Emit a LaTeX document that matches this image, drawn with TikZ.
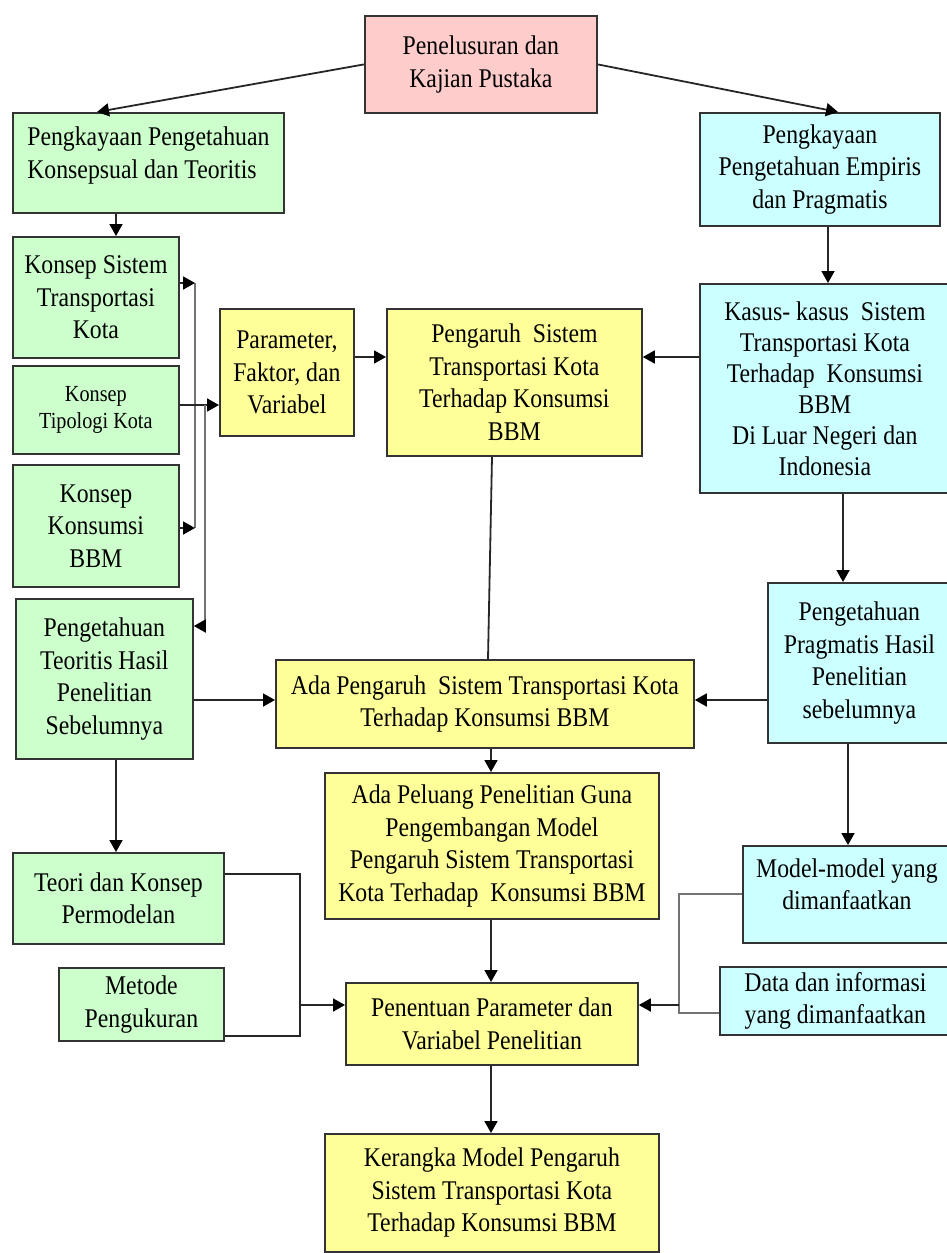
\documentclass[tikz,border=0pt]{standalone}
\usepackage{fontspec}
\setmainfont{Liberation Serif}[FakeStretch=0.88]
\usetikzlibrary{arrows.meta}
\definecolor{cgreen}{HTML}{CCFFCC}
\definecolor{ccyan}{HTML}{CCFFFF}
\definecolor{cyellow}{HTML}{FFFF99}
\definecolor{cpink}{HTML}{FFCCCC}
\definecolor{cline}{HTML}{333333}
\begin{document}
\begin{tikzpicture}[x=1pt,y=-1pt,
  box/.style={draw=cline, line width=1.8pt, align=center, anchor=north west, inner sep=3pt, font=\fontsize{27}{32.5}\selectfont},
  gbox/.style={box, fill=cgreen},
  cbox/.style={box, fill=ccyan},
  ybox/.style={box, fill=cyellow},
  pbox/.style={box, fill=cpink},
  wh/.style 2 args={minimum width=#1, minimum height=#2},
  conn/.style={draw=black!85, line width=1.8pt},
  arr/.style={conn, -{Triangle[length=12pt,width=13pt,color=black]}},
  gconn/.style={draw=black!55, line width=2pt},
  garr/.style={gconn, -{Triangle[length=12pt,width=13pt,color=black]}}
]
\useasboundingbox (0,0) rectangle (946,1253);

% boxes
\node[pbox, wh={232}{97}] (top) at (364,15) {Penelusuran dan\\Kajian Pustaka};
\node[gbox, wh={271}{100}, align=left] (pkk) at (12,112) {Pengkayaan Pengetahuan\\Konsepsual dan Teoritis\\[-12pt]};
\node[cbox, wh={240}{113}] (pke) at (699,112) {Pengkayaan\\Pengetahuan Empiris\\dan Pragmatis};
\node[gbox, wh={166}{121}] (ks) at (12,236) {Konsep Sistem\\Transportasi\\Kota};
\node[gbox, wh={166}{88}, font=\fontsize{23}{27}\selectfont] (kt) at (12,365) {Konsep\\Tipologi Kota};
\node[gbox, wh={166}{122}] (kk) at (12,464) {Konsep\\Konsumsi\\BBM};
\node[gbox, wh={177}{160}] (pt) at (15,598) {Pengetahuan\\Teoritis Hasil\\Penelitian\\Sebelumnya};
\node[ybox, wh={134}{127}] (par) at (219,308) {Parameter,\\Faktor, dan\\Variabel};
\node[ybox, wh={255}{147}] (peng) at (386,308) {Pengaruh~~Sistem\\Transportasi Kota\\Terhadap Konsumsi\\BBM};
\node[cbox, wh={250}{209}, font=\fontsize{27}{31}\selectfont] (kas) at (699,283) {Kasus- kasus~~Sistem\\Transportasi Kota\\Terhadap~~Konsumsi\\BBM\\Di Luar Negeri dan\\Indonesia};
\node[cbox, wh={183}{160}] (prag) at (767,582) {Pengetahuan\\Pragmatis Hasil\\Penelitian\\sebelumnya};
\node[ybox, wh={418}{88}] (ada) at (275,659) {Ada Pengaruh~~Sistem Transportasi Kota\\Terhadap Konsumsi BBM};
\node[ybox, wh={334}{146}] (pel) at (324,772) {Ada Peluang Penelitian Guna\\Pengembangan Model\\Pengaruh Sistem Transportasi\\Kota Terhadap~~Konsumsi BBM};
\node[gbox, wh={211}{91}] (teori) at (12,852) {Teori dan Konsep\\Permodelan};
\node[gbox, wh={165}{73}] (met) at (58,967) {Metode\\Pengukuran};
\node[cbox, wh={208}{97}] (model) at (742,845) {Model-model yang\\dimanfaatkan\\[-12pt]};
\node[cbox, wh={231}{68}] (data) at (719,966) {Data dan informasi\\yang dimanfaatkan};
\node[ybox, wh={292}{82}] (pen) at (345,982) {Penentuan Parameter dan\\Variabel Penelitian};
\node[ybox, wh={334}{118}] (ker) at (324,1133) {Kerangka Model Pengaruh\\Sistem Transportasi Kota\\Terhadap Konsumsi BBM};

% junction coordinates
\coordinate (bA) at (195,283);
\coordinate (bB) at (195,528);
\coordinate (bC) at (205,405);
\coordinate (bD) at (205,626);
\coordinate (jL) at (300,1005);
\coordinate (jR) at (679,1005);

% connectors
\draw[arr] (top.west) -- (97,0 |- pkk.north);
\draw[arr] (top.east) -- (838,0 |- pke.north);
\draw[arr] (116,0 |- pkk.south) -- (116,0 |- ks.north);
\draw[arr] (828,0 |- pke.south) -- (828,0 |- kas.north);

\draw[gconn] (bA) -- (bB);
\draw[arr] (ks.east |- bA) -- (bA);
\draw[arr] (kk.east |- bB) -- (bB);
\draw[arr] (kt.east |- bC) -- (par.west |- bC);
\draw[gconn] (bC) -- (bD);
\draw[arr] (bD) -- (pt.east |- bD);

\draw[arr] (par.east |- 0,357) -- (peng.west |- 0,357);
\draw[arr] (kas.west |- 0,357) -- (peng.east |- 0,357);
\draw[conn] (492,0 |- peng.south) -- (488,0 |- ada.north);
\draw[arr] (843,0 |- kas.south) -- (843,0 |- prag.north);

\draw[arr] (pt.east |- 0,700) -- (ada.west |- 0,700);
\draw[arr] (prag.west |- 0,700) -- (ada.east |- 0,700);

\draw[arr] (491,0 |- ada.south) -- (491,0 |- pel.north);
\draw[arr] (491,0 |- pel.south) -- (491,0 |- pen.north);
\draw[arr] (491,0 |- pen.south) -- (491,0 |- ker.north);

\draw[arr] (116,0 |- pt.south) -- (116,0 |- teori.north);
\draw[arr] (848,0 |- prag.south) -- (848,0 |- model.north);

\draw[conn] (teori.east |- 0,874) -| (300,1036) -- (met.east |- 0,1036);
\draw[arr] (jL) -- (pen.west |- jL);
\draw[gconn] (model.west |- 0,894) -| (679,1013) -- (data.west |- 0,1013);
\draw[arr] (jR) -- (pen.east |- jR);
\end{tikzpicture}
\end{document}
